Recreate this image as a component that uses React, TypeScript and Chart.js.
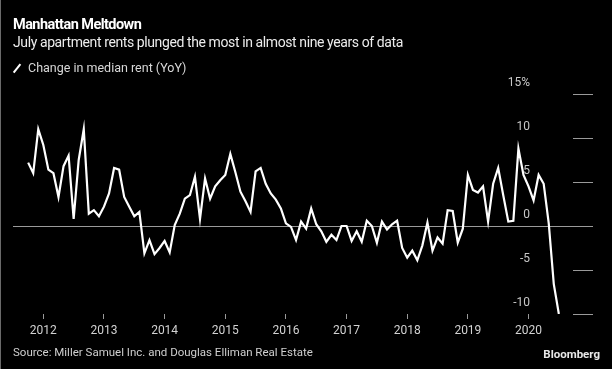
import React, { useEffect, useRef } from 'react';
import { Chart, registerables } from 'chart.js';

Chart.register(...registerables);

// Monthly series: October 2011 through July 2020
const START_YEAR = 2011;
const START_MONTH = 10;
const yearLabels = ['2012', '2013', '2014', '2015', '2016', '2017', '2018', '2019', '2020'];
const yTickValues = [-10, -5, 0, 5, 10, 15];
const rentChange = [
  7.2, 6.0, 11.0,
  9.2, 6.4, 6.0, 3.3, 6.8, 8.0, 0.8, 7.5, 11.0, 1.4, 1.8, 1.1,
  2.2, 3.7, 6.6, 6.4, 3.3, 2.2, 1.1, 1.6, -3.1, -1.6, -3.2, -2.5,
  -1.7, -3.0, 0.1, 1.4, 3.1, 3.5, 5.6, 0.8, 5.4, 3.1, 4.5, 5.2,
  5.8, 8.2, 6.1, 3.9, 2.8, 1.6, 6.2, 6.6, 4.8, 3.7, 3.0, 2.0,
  0.3, -0.1, -1.6, 0.5, -0.3, 2.0, 0.2, -0.6, -1.8, -1.0, -1.6, 0.0,
  0.0, -1.7, -0.6, -1.8, 0.6, 0.0, -1.9, 0.5, -0.4, 0.2, 0.6, -2.5,
  -3.6, -2.8, -3.9, -2.2, 0.4, -2.8, -1.3, -2.0, 1.8, 1.7, -1.9, -0.3,
  5.8, 4.1, 3.8, 4.5, 0.5, 4.8, 6.6, 3.5, 0.5, 0.6, 8.8, 5.8,
  4.5, 2.9, 5.8, 4.8, 0.3, -6.6, -10.0,
];

const FIRST_YEAR = Number(yearLabels[0]);
const startOffset = (START_YEAR - FIRST_YEAR) * 12 + (START_MONTH - 1);

export default function App() {
  const ref = useRef<HTMLCanvasElement>(null);

  useEffect(() => {
    document.body.style.margin = '0';
    document.body.style.background = '#000';
    const canvas = ref.current;
    if (!canvas) return;
    const points = rentChange.map((v, i) => ({ x: startOffset + i, y: v }));
    const font = 'Roboto, "Open Sans", sans-serif';
    const chart = new Chart(canvas, {
      type: 'line',
      data: {
        datasets: [
          {
            label: 'Change in median rent (YoY)',
            data: points,
            borderColor: '#ffffff',
            borderWidth: 2.2,
            pointRadius: 0,
            tension: 0,
            fill: false,
          },
        ],
      },
      options: {
        animation: false,
        responsive: false,
        maintainAspectRatio: false,
        layout: { padding: { top: 94, left: 13, right: 19, bottom: 25 } },
        plugins: {
          legend: { display: false },
          title: { display: false },
          tooltip: { enabled: false },
        },
        scales: {
          x: {
            type: 'linear',
            bounds: 'data',
            min: -6,
            max: 104.8,
            afterBuildTicks: (scale: any) => {
              scale.ticks = yearLabels.map((y) => ({ value: (Number(y) - FIRST_YEAR) * 12 }));
            },
            afterFit: (scale: any) => {
              scale.height = 30;
            },
            border: { display: false },
            grid: {
              drawOnChartArea: false,
              drawTicks: true,
              tickLength: 5,
              tickColor: '#9a9a9a',
              tickWidth: 1,
            },
            ticks: {
              autoSkip: false,
              maxRotation: 0,
              padding: 5,
              color: '#d2d2d2',
              font: { family: font, size: 12 },
              callback: (value: any) => String(FIRST_YEAR + Math.round(Number(value) / 12)),
            },
          },
          y: {
            type: 'linear',
            position: 'right',
            min: yTickValues[0],
            max: yTickValues[yTickValues.length - 1],
            afterBuildTicks: (scale: any) => {
              scale.ticks = yTickValues.map((v) => ({ value: v }));
            },
            afterFit: (scale: any) => {
              scale.width = 20;
            },
            border: { display: false },
            grid: {
              drawOnChartArea: true,
              drawTicks: true,
              tickLength: 20,
              color: (ctx: any) => (ctx.tick && ctx.tick.value === 0 ? '#9a9a9a' : 'rgba(0,0,0,0)'),
              tickColor: '#9a9a9a',
              lineWidth: 1,
            },
            ticks: {
              mirror: true,
              padding: -43,
              labelOffset: -11,
              color: '#c8c8c8',
              font: { family: font, size: 12 },
              callback: (value: any) => (Number(value) === 15 ? '15%' : String(value)),
            },
          },
        },
      },
    });
    return () => chart.destroy();
  }, []);

  const font = 'Roboto, "Open Sans", sans-serif';
  const abs: React.CSSProperties = { position: 'absolute', whiteSpace: 'nowrap', fontFamily: font };

  return (
    <div style={{ position: 'relative', width: 612, height: 369, background: '#000', overflow: 'hidden' }}>
      <canvas ref={ref} width={612} height={369} style={{ position: 'absolute', left: 0, top: 0 }} />
      <div style={{ position: 'absolute', left: 0, top: 0, width: 1, height: 369, background: '#6a6a6a' }} />
      <div
        style={{
          ...abs,
          left: 13,
          top: 18,
          fontSize: 14.5,
          lineHeight: '14px',
          fontWeight: 700,
          letterSpacing: '-0.55px',
          color: '#ffffff',
        }}
      >
        Manhattan Meltdown
      </div>
      <div
        style={{
          ...abs,
          left: 13,
          top: 35,
          fontSize: 14,
          lineHeight: '14px',
          letterSpacing: '-0.4px',
          color: '#ececec',
        }}
      >
        July apartment rents plunged the most in almost nine years of data
      </div>
      <span
        style={{
          position: 'absolute',
          left: 16,
          top: 62.5,
          width: 2.4,
          height: 11,
          background: '#ffffff',
          transform: 'rotate(38deg)',
        }}
      />
      <div style={{ ...abs, left: 28, top: 62.3, fontSize: 12.5, lineHeight: '12px', color: '#d8d8d8' }}>
        Change in median rent (YoY)
      </div>
      <div style={{ ...abs, left: 13, top: 347, fontSize: 11.5, lineHeight: '11.5px', color: '#cfcfcf' }}>
        Source: Miller Samuel Inc. and Douglas Elliman Real Estate
      </div>
      <div
        style={{
          ...abs,
          right: 12,
          top: 349,
          fontSize: 11.5,
          lineHeight: '11.5px',
          fontWeight: 700,
          color: '#e8e8e8',
        }}
      >
        Bloomberg
      </div>
    </div>
  );
}
